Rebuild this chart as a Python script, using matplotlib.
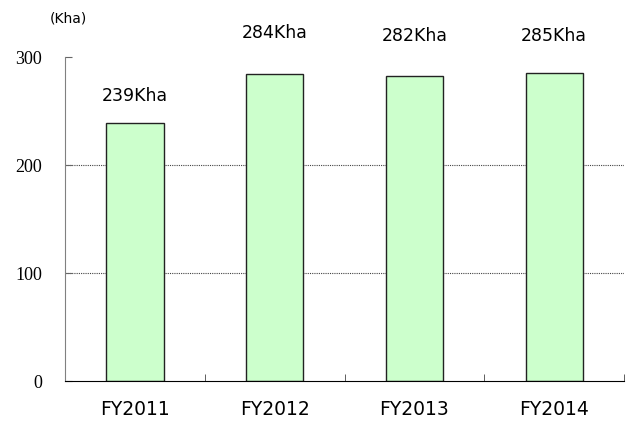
import matplotlib.pyplot as plt
import numpy as np

years = ['FY2011', 'FY2012', 'FY2013', 'FY2014']
area = [239, 284, 282, 285]
labels = ['239Kha', '284Kha', '282Kha', '285Kha']
yticks = [0, 100, 200, 300]

fig = plt.figure(figsize=(6.36, 4.21), dpi=100)
ax = fig.add_axes([0.1022, 0.095, 0.879, 0.7696])

x = np.arange(len(years))
ax.bar(x, area, width=0.41, color='#ccffcc', edgecolor='#222222', linewidth=1, zorder=3)

# value labels (offsets in points, label placement differs per bar in original)
offsets = [19, 30, 29, 27]
for xi, v, lab, off in zip(x, area, labels, offsets):
    ax.annotate(lab, (xi, v), xytext=(0, off), textcoords='offset points',
                ha='center', va='center', fontsize=12.5, family='DejaVu Sans')

ax.set_xlim(-0.5, len(years) - 0.5)
ax.set_ylim(0, 300)
ax.set_yticks(yticks)
ax.set_yticklabels([str(t) for t in yticks], family='Liberation Serif', fontsize=13)
ax.set_xticks(x)
ax.set_xticklabels(years, fontsize=13.5, family='DejaVu Sans')
ax.tick_params(axis='x', which='major', length=0, pad=14)
ax.set_xticks(np.arange(-0.5, len(years), 1.0), minor=True)
ax.tick_params(axis='x', which='minor', direction='in', length=5, color='#444444')
ax.tick_params(axis='y', direction='in', length=5, color='#666666', pad=16.5)

for y in [100, 200]:
    ax.axhline(y, color='#444444', linestyle=(0, (1, 1)), linewidth=0.8, zorder=1)

ax.spines['top'].set_visible(False)
ax.spines['right'].set_visible(False)
ax.spines['left'].set_color('#808080')
ax.spines['bottom'].set_color('black')
ax.spines['bottom'].set_zorder(4)

fig.text(0.078, 0.955, '(Kha)', fontsize=10, family='DejaVu Sans', va='center')

fig.savefig('out.png', dpi=100)
